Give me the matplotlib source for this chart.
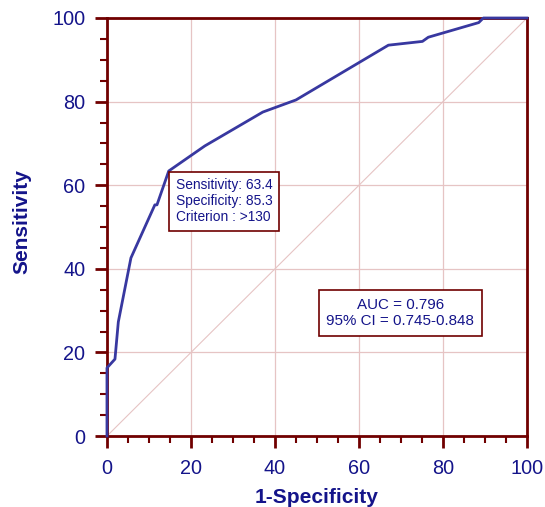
import matplotlib
matplotlib.use("Agg")
import matplotlib.pyplot as plt
from matplotlib.ticker import MultipleLocator

plt.rcParams['font.family'] = ['Liberation Sans', 'DejaVu Sans']

# ROC curve points (1-Specificity, Sensitivity)
fpr = [0, 0, 1.9, 2.7, 5.7, 11.4, 11.9, 14.7, 23.3, 37.1, 45.0, 67.0, 75.1, 76.5, 88.5, 89.6, 100]
tpr = [0, 16.3, 18.4, 27.3, 42.6, 55.3, 55.3, 63.4, 69.4, 77.5, 80.4, 93.5, 94.4, 95.4, 98.9, 100, 100]

crit_x, crit_y = 14.7, 63.4
crit_text = "Sensitivity: 63.4\nSpecificity: 85.3\nCriterion : >130"
auc_text = "AUC = 0.796\n95% CI = 0.745-0.848"

navy = '#14148a'
dark_red = '#700000'
curve_col = '#3838a0'
grid_col = '#e6c4c4'

fig = plt.figure(figsize=(5.45, 5.07), dpi=100)
ax = fig.add_axes([0.1963, 0.140, 0.7707, 0.8245])

ax.plot([0, 100], [0, 100], color=grid_col, lw=0.8, zorder=1)
ax.plot(fpr, tpr, color=curve_col, lw=2, zorder=3, clip_on=False)

ax.set_xlim(0, 100)
ax.set_ylim(0, 100)
ax.xaxis.set_major_locator(MultipleLocator(20))
ax.xaxis.set_minor_locator(MultipleLocator(5))
ax.yaxis.set_major_locator(MultipleLocator(20))
ax.yaxis.set_minor_locator(MultipleLocator(5))
ax.grid(True, which='major', color=grid_col, lw=0.9, zorder=0)

for s in ax.spines.values():
    s.set_color(dark_red)
    s.set_linewidth(2)
ax.tick_params(which='major', direction='out', length=8.5, width=2, color=dark_red,
               labelcolor=navy, labelsize=14.3, pad=7)
ax.tick_params(which='minor', direction='out', length=5, width=1.5, color=dark_red)
ax.tick_params(axis='x', which='major', pad=8)

ax.set_xlabel("1-Specificity", fontsize=15, fontweight='bold', color=navy, labelpad=7)
ax.set_ylabel("Sensitivity", fontsize=15, fontweight='bold', color=navy)
ax.yaxis.set_label_coords(-0.18, 0.512)

ax.annotate(crit_text, (crit_x, crit_y), xytext=(5, -5), textcoords='offset points',
            ha='left', va='top', fontsize=9.9, color=navy, linespacing=1.2, zorder=4,
            bbox=dict(boxstyle='square,pad=0.45', fc='white', ec=dark_red, lw=1.2))
ax.text(69.8, 29.4, auc_text, ha='center', va='center', fontsize=10.9, color=navy,
        linespacing=1.25, zorder=4,
        bbox=dict(boxstyle='square,pad=0.5', fc='white', ec=dark_red, lw=1.2))

fig.savefig("out.png", dpi=100)
